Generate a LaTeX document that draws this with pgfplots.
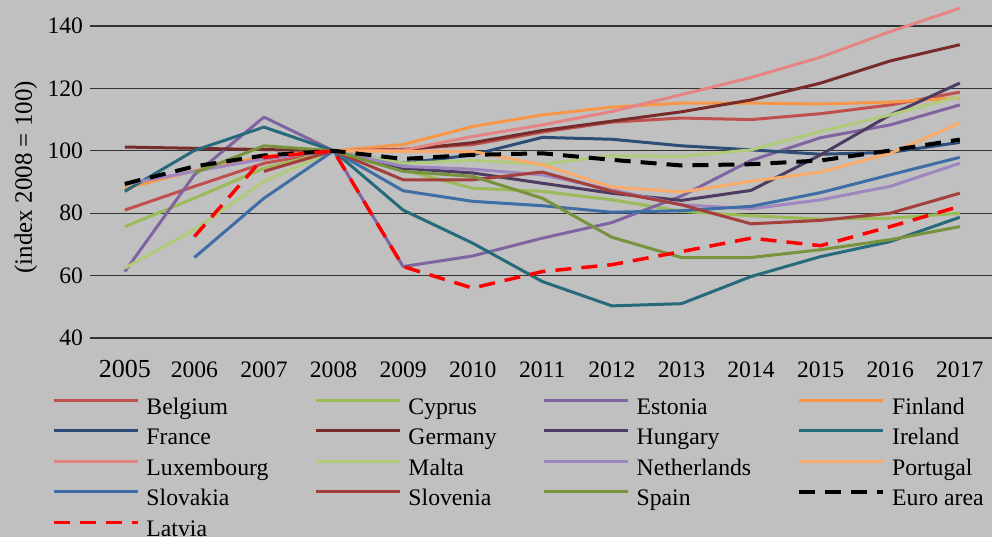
\documentclass[border=0pt]{standalone}
\usepackage{pgfplots}
\pgfplotsset{compat=1.18}
\usepackage{fontspec}
\setmainfont{Liberation Serif}
\usetikzlibrary{backgrounds}
\definecolor{bgc}{HTML}{C0C0C0}
\definecolor{cBel}{HTML}{C0504D}
\definecolor{cCyp}{HTML}{9BBB59}
\definecolor{cEst}{HTML}{8064A2}
\definecolor{cFin}{HTML}{F79646}
\definecolor{cFra}{HTML}{2C4D75}
\definecolor{cGer}{HTML}{772C2A}
\definecolor{cHun}{HTML}{4D3B62}
\definecolor{cIre}{HTML}{276A7C}
\definecolor{cLux}{HTML}{E68383}
\definecolor{cMal}{HTML}{B0CC7A}
\definecolor{cNet}{HTML}{9E86C0}
\definecolor{cPor}{HTML}{F9AB6B}
\definecolor{cSvk}{HTML}{3F6DA5}
\definecolor{cSvn}{HTML}{A33F3C}
\definecolor{cSpa}{HTML}{77933C}
\begin{document}
\begin{tikzpicture}
\begin{axis}[
  scale only axis, width=451pt, height=169pt,
  xmin=2004.5, xmax=2017.463, ymin=40, ymax=148.33,
  xtick={2005,2006,2007,2008,2009,2010,2011,2012,2013,2014,2015,2016,2017},
  xticklabels={{\fontsize{13}{15}\selectfont 2005},2006,2007,2008,2009,2010,2011,2012,2013,2014,2015,2016,2017},
  ytick={40,60,80,100,120,140},
  ymajorgrids, major grid style={black!80, line width=0.6pt},
  axis line style={draw=none}, major tick length=0pt,
  /pgf/number format/assume math mode=true,
  ticklabel style={font=\fontsize{11.8}{14}\selectfont},
  xticklabel style={anchor=base, yshift=-19.5pt},
  ylabel={(index 2008 = 100)},
  ylabel style={font=\fontsize{12.5}{15}\selectfont, at={(axis description cs:-0.071,0.476)}, rotate=0, anchor=center},
  every axis plot/.append style={line width=1.5pt, line join=round},
  legend columns=4, legend cell align=left,
  legend image code/.code={\draw[#1] (0pt,4pt) -- (42pt,4pt);},
  legend style={at={(axis description cs:0,0)}, anchor=north west, xshift=-19pt, yshift=-27.5pt,
    draw=none, fill=none, inner sep=0pt, outer sep=0pt, row sep=0pt,
    font=\fontsize{11.85}{14}\selectfont,
    nodes={inner sep=1.5pt, text height=9pt, text depth=3.25pt},
    /tikz/every odd column/.append style={column sep=2pt},
    /tikz/every even column/.append style={column sep=21.5pt}},
]
\addplot[cBel] coordinates {(2005,81) (2006,88.6) (2007,96) (2008,100) (2009,100.5) (2010,102) (2011,106) (2012,109.2) (2013,110.5) (2014,110) (2015,111.9) (2016,114.7) (2017,118.8)};
\addlegendentry{Belgium}
\addplot[cCyp] coordinates {(2005,75.7) (2006,84.8) (2007,94.4) (2008,100) (2009,93.9) (2010,88) (2011,87) (2012,84.3) (2013,80.6) (2014,79.2) (2015,78.1) (2016,78.4) (2017,80)};
\addlegendentry{Cyprus}
\addplot[cEst] coordinates {(2005,61.3) (2006,92.3) (2007,110.8) (2008,100) (2009,62.9) (2010,66.3) (2011,72) (2012,77) (2013,85.5) (2014,96.9) (2015,104.2) (2016,108.3) (2017,114.7)};
\addlegendentry{Estonia}
\addplot[cFin] coordinates {(2005,88) (2006,93.6) (2007,98.2) (2008,100) (2009,102) (2010,107.8) (2011,111.5) (2012,114) (2013,115.3) (2014,115.3) (2015,115) (2016,115.6) (2017,117)};
\addlegendentry{Finland}
\addplot[cFra] coordinates {(2008,100) (2009,96) (2010,98.7) (2011,104.3) (2012,103.7) (2013,101.6) (2014,100.3) (2015,98.9) (2016,99.5) (2017,102.7)};
\addlegendentry{France}
\addplot[cGer] coordinates {(2005,101.2) (2006,100.8) (2007,100.4) (2008,100) (2009,100.3) (2010,102.6) (2011,106.5) (2012,109.5) (2013,112.5) (2014,116.3) (2015,121.7) (2016,128.8) (2017,134)};
\addlegendentry{Germany}
\addplot[cHun] coordinates {(2008,100) (2009,94.4) (2010,92.9) (2011,89.6) (2012,86.4) (2013,84.1) (2014,87.3) (2015,98.7) (2016,111.5) (2017,121.7)};
\addlegendentry{Hungary}
\addplot[cIre] coordinates {(2005,87) (2006,100.1) (2007,107.6) (2008,100) (2009,81) (2010,70.4) (2011,58.1) (2012,50.3) (2013,51) (2014,59.7) (2015,66.1) (2016,70.9) (2017,78.7)};
\addlegendentry{Ireland}
\addplot[cLux] coordinates {(2007,97.3) (2008,100) (2009,100.2) (2010,104.6) (2011,108.3) (2012,112.6) (2013,118) (2014,123.5) (2015,130) (2016,138.2) (2017,145.7)};
\addlegendentry{Luxembourg}
\addplot[cMal] coordinates {(2005,62.4) (2006,74.7) (2007,90.2) (2008,100) (2009,96) (2010,96.9) (2011,95.7) (2012,98.4) (2013,98.2) (2014,100.3) (2015,106.2) (2016,111.5) (2017,117.4)};
\addlegendentry{Malta}
\addplot[cNet] coordinates {(2005,89.3) (2006,93.4) (2007,97.4) (2008,100) (2009,95) (2010,94.1) (2011,92.3) (2012,87.5) (2013,82.7) (2014,81.4) (2015,84.3) (2016,88.6) (2017,96)};
\addlegendentry{Netherlands}
\addplot[cPor] coordinates {(2008,100) (2009,99.8) (2010,99.8) (2011,95.5) (2012,88.4) (2013,86.8) (2014,90.2) (2015,93.2) (2016,99.2) (2017,108.9)};
\addlegendentry{Portugal}
\addplot[cSvk] coordinates {(2006,65.8) (2007,84.8) (2008,100) (2009,87.2) (2010,83.8) (2011,82.4) (2012,80.3) (2013,80.8) (2014,82.2) (2015,86.6) (2016,92.3) (2017,97.9)};
\addlegendentry{Slovakia}
\addplot[cSvn] coordinates {(2007,93.4) (2008,100) (2009,90.7) (2010,90.7) (2011,93.2) (2012,87) (2013,82.7) (2014,76.6) (2015,77.7) (2016,80) (2017,86.4)};
\addlegendentry{Slovenia}
\addplot[cSpa] coordinates {(2006,92.9) (2007,101.6) (2008,100) (2009,93.4) (2010,91.8) (2011,84.8) (2012,72.3) (2013,65.8) (2014,65.8) (2015,68.3) (2016,71.5) (2017,75.7)};
\addlegendentry{Spain}
\addplot[black, line width=2pt, dash pattern=on 8pt off 5pt] coordinates {(2005,89.4) (2006,95) (2007,98.5) (2008,100) (2009,97.4) (2010,98.7) (2011,99.2) (2012,97.1) (2013,95.3) (2014,95.7) (2015,96.9) (2016,100.1) (2017,103.6)};
\addlegendentry{Euro area}
\addplot[red, line width=1.75pt, dash pattern=on 8pt off 5pt] coordinates {(2006,72.5) (2007,97.9) (2008,100) (2009,62.9) (2010,56) (2011,61.3) (2012,63.5) (2013,67.7) (2014,72) (2015,69.6) (2016,75.7) (2017,82.2)};
\addlegendentry{Latvia}
\end{axis}
\pgfresetboundingbox
\path (current axis.south west) ++(-45pt,-99.5pt) coordinate (bbsw) ++(496pt,268.5pt) coordinate (bbne);
\path[use as bounding box] (bbsw) rectangle (bbne);
\begin{pgfonlayer}{background}
\fill[bgc] (bbsw) rectangle (bbne);
\end{pgfonlayer}
\end{tikzpicture}
\end{document}
